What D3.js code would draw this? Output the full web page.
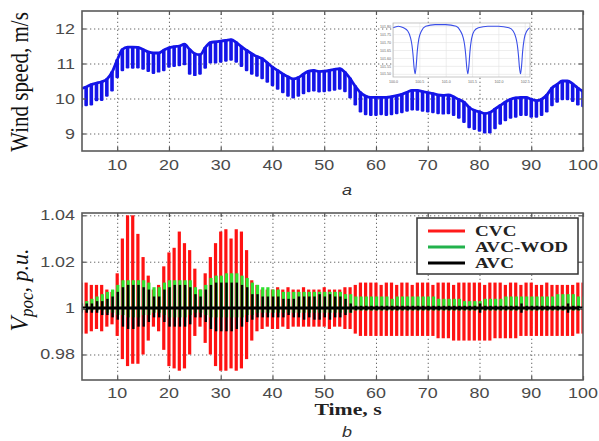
<!DOCTYPE html>
<html><head><meta charset="utf-8">
<script src="https://cdn.jsdelivr.net/npm/d3@7"></script>
<style>html,body{margin:0;padding:0;background:#fff;} svg{display:block}</style>
</head><body><svg id="c" width="599" height="441"></svg>
<script>
// ---------- DATA ----------
const time = [3,4,5,6,7,8,9,10,11,12,13,14,15,16,17,18,19,20,21,22,23,24,25,26,27,28,29,30,31,32,33,34,35,36,37,38,39,40,41,42,43,44,45,46,47,48,49,50,51,52,53,54,55,56,57,58,59,60,61,62,63,64,65,66,67,68,69,70,71,72,73,74,75,76,77,78,79,80,81,82,83,84,85,86,87,88,89,90,91,92,93,94,95,96,97,98,99,100];

// wind speed, m/s: top of each oscillation and bottom of each dip
const windTop = [10.28,10.33,10.40,10.44,10.48,10.55,10.75,
 11.10,11.40,11.47,11.47,11.46,11.40,11.33,11.30,11.30,11.38,
 11.45,11.48,11.50,11.55,11.40,11.28,11.25,11.45,11.60,11.62,
 11.64,11.66,11.68,11.60,11.48,11.38,11.28,11.20,11.14,11.02,
 10.90,10.80,10.70,10.62,10.56,10.60,10.70,10.78,10.80,10.77,
 10.78,10.80,10.83,10.85,10.75,10.57,10.35,10.17,10.07,10.03,
 10.03,10.03,10.03,10.05,10.08,10.12,10.18,10.23,10.23,10.20,
 10.17,10.14,10.10,10.09,10.10,10.05,9.97,9.90,9.75,9.66,
 9.62,9.57,9.60,9.70,9.80,9.90,9.98,10.02,10.03,10.03,
 9.98,9.94,9.98,10.10,10.30,10.40,10.50,10.50,10.42,10.30,
 10.20];
const windLow = [9.74,9.78,9.80,9.92,9.93,10.05,10.20,
 10.58,10.78,10.86,10.85,10.86,10.82,10.76,10.70,10.74,10.78,
 10.88,10.90,10.92,10.95,10.68,10.64,10.68,10.85,11.00,11.00,
 11.02,11.05,11.08,11.02,10.90,10.78,10.68,10.62,10.55,10.45,
 10.35,10.25,10.15,10.05,10.00,10.05,10.12,10.18,10.20,10.17,
 10.18,10.20,10.22,10.25,10.18,10.00,9.80,9.60,9.52,9.50,
 9.50,9.52,9.50,9.52,9.55,9.58,9.62,9.66,9.65,9.62,
 9.60,9.58,9.55,9.54,9.55,9.50,9.42,9.30,9.15,9.10,
 9.05,9.00,9.00,9.12,9.25,9.35,9.42,9.45,9.50,9.50,
 9.45,9.45,9.50,9.60,9.78,9.88,9.95,9.95,9.90,9.80,
 9.75];

// V_poc, p.u.: upper / lower extent of each oscillation
const cvcHi = [1.011,1.011,1.010,1.010,1.010,1.008,1.007,
 1.015,1.030,1.040,1.040,1.032,1.022,1.014,1.008,1.010,1.018,
 1.024,1.026,1.033,1.028,1.025,1.017,1.008,1.015,1.022,1.028,
 1.033,1.034,1.030,1.034,1.033,1.025,1.012,1.010,1.008,1.008,
 1.008,1.009,1.008,1.009,1.008,1.008,1.009,1.008,1.008,1.008,
 1.009,1.008,1.008,1.008,1.009,1.009,1.010,1.011,1.011,1.011,
 1.011,1.010,1.011,1.011,1.010,1.011,1.011,1.010,1.011,1.011,
 1.011,1.010,1.011,1.011,1.011,1.010,1.011,1.011,1.011,1.011,
 1.011,1.010,1.011,1.011,1.011,1.010,1.011,1.011,1.010,1.011,
 1.011,1.010,1.010,1.011,1.010,1.010,1.010,1.010,1.010,1.011,
 1.011];
const cvcLo = [0.989,0.989,0.990,0.991,0.990,0.992,0.993,
 0.988,0.978,0.975,0.976,0.976,0.980,0.986,0.992,0.990,0.982,
 0.975,0.974,0.973,0.974,0.980,0.988,0.992,0.985,0.980,0.975,
 0.973,0.973,0.974,0.973,0.974,0.978,0.986,0.990,0.991,0.992,
 0.991,0.991,0.992,0.991,0.992,0.992,0.992,0.992,0.992,0.992,
 0.992,0.991,0.992,0.992,0.991,0.991,0.989,0.988,0.988,0.988,
 0.988,0.988,0.988,0.988,0.988,0.988,0.988,0.988,0.988,0.988,
 0.988,0.988,0.987,0.987,0.987,0.986,0.986,0.986,0.986,0.986,
 0.986,0.986,0.986,0.987,0.987,0.987,0.987,0.987,0.988,0.988,
 0.988,0.988,0.988,0.988,0.988,0.988,0.988,0.988,0.988,0.989,
 0.989];
const wodHi = [1.002,1.003,1.004,1.005,1.006,1.007,1.008,
 1.010,1.012,1.012,1.012,1.012,1.012,1.011,1.009,1.009,1.011,
 1.012,1.012,1.012,1.012,1.012,1.009,1.008,1.010,1.013,1.014,
 1.014,1.015,1.015,1.015,1.014,1.013,1.011,1.010,1.009,1.009,
 1.008,1.008,1.007,1.007,1.007,1.007,1.007,1.007,1.007,1.007,
 1.007,1.007,1.007,1.007,1.006,1.006,1.005,1.005,1.005,1.005,
 1.005,1.005,1.005,1.004,1.005,1.005,1.005,1.005,1.005,1.005,
 1.005,1.005,1.004,1.004,1.004,1.004,1.004,1.003,1.003,1.003,
 1.003,1.004,1.004,1.004,1.004,1.005,1.005,1.005,1.005,1.005,
 1.005,1.005,1.005,1.005,1.005,1.006,1.006,1.006,1.006,1.005,
 1.005];
const wodLo = [0.999,0.999,0.999,0.999,0.999,0.998,0.998,
 0.997,0.997,0.996,0.996,0.996,0.997,0.997,0.998,0.998,0.997,
 0.996,0.996,0.996,0.996,0.997,0.998,0.998,0.997,0.996,0.996,
 0.996,0.996,0.996,0.996,0.996,0.997,0.997,0.998,0.998,0.998,
 0.998,0.998,0.998,0.998,0.998,0.998,0.998,0.998,0.998,0.998,
 0.998,0.998,0.998,0.998,0.998,0.998,0.999,0.999,0.999,0.999,
 0.999,0.999,0.999,0.999,0.999,0.999,0.999,0.999,0.999,0.999,
 0.999,0.999,0.999,0.999,0.999,0.999,0.999,0.999,0.999,0.999,
 0.999,0.999,0.999,0.999,0.999,0.999,0.999,0.999,0.999,0.999,
 0.999,0.999,0.999,0.999,0.999,0.999,0.999,0.999,0.999,0.999,
 0.999];
const avcHi = [1.002,1.002,1.002,1.003,1.003,1.004,1.005,
 1.007,1.009,1.010,1.010,1.010,1.009,1.008,1.005,1.005,1.008,
 1.009,1.010,1.010,1.010,1.009,1.006,1.005,1.008,1.010,1.011,
 1.011,1.011,1.011,1.011,1.010,1.009,1.006,1.006,1.005,1.005,
 1.005,1.005,1.004,1.004,1.004,1.005,1.005,1.005,1.005,1.006,
 1.005,1.006,1.005,1.005,1.004,1.002,1.001,1.001,1.001,1.001,
 1.001,1.001,1.001,1.001,1.001,1.001,1.001,1.001,1.001,1.001,
 1.001,1.001,1.001,1.001,1.001,1.001,1.001,1.001,1.001,1.001,
 1.002,1.001,1.001,1.001,1.001,1.001,1.001,1.001,1.002,1.001,
 1.001,1.001,1.001,1.001,1.001,1.001,1.001,1.002,1.001,1.001,
 1.001];
const avcLo = [0.998,0.998,0.998,0.998,0.997,0.997,0.996,
 0.995,0.992,0.991,0.991,0.992,0.992,0.994,0.996,0.996,0.994,
 0.992,0.992,0.992,0.992,0.993,0.996,0.996,0.994,0.991,0.990,
 0.990,0.990,0.990,0.991,0.992,0.994,0.995,0.996,0.996,0.996,
 0.996,0.996,0.996,0.997,0.996,0.996,0.995,0.996,0.995,0.995,
 0.996,0.995,0.996,0.996,0.997,0.998,0.999,0.999,0.999,0.999,
 0.999,0.999,0.999,0.999,0.999,0.999,0.999,0.999,0.999,0.999,
 0.999,0.999,0.999,0.999,0.999,0.999,0.999,0.999,0.999,0.999,
 0.998,0.999,0.999,0.999,0.999,0.999,0.999,0.999,0.998,0.999,
 0.999,0.999,0.999,0.999,0.999,0.999,0.999,0.998,0.999,0.999,
 0.999];

const xTicks = [10,20,30,40,50,60,70,80,90,100];
const windTicks = [9,10,11,12];
const vTicks = [0.98,1.00,1.02,1.04];
const vTickLabels = ["0.98","1","1.02","1.04"];
const seriesNames = ["CVC","AVC-WOD","AVC"];

// inset (zoomed wind-speed detail)
const insetT = [100.00,100.10,100.20,100.28,100.33,100.36,100.38,100.40,100.42,100.44,100.46,100.49,100.54,100.62,100.80,
 101.00,101.20,101.28,101.33,101.36,101.38,101.40,101.42,101.44,101.46,101.49,101.54,101.62,101.80,
 102.00,102.20,102.28,102.33,102.36,102.38,102.40,102.42,102.44,102.46,102.49,102.54,102.60];
const insetV = [101.79,101.80,101.79,101.77,101.73,101.68,101.62,101.54,101.50,101.55,101.64,101.72,101.77,101.80,101.81,
 101.81,101.80,101.77,101.73,101.68,101.62,101.54,101.50,101.55,101.64,101.72,101.77,101.79,101.80,
 101.80,101.79,101.77,101.73,101.68,101.62,101.54,101.50,101.55,101.64,101.72,101.77,101.79];
const insetXTicks = [100,100.5,101,101.5,102,102.5];
const insetYTicks = [101.50,101.55,101.60,101.65,101.70,101.75,101.80];

// ---------- DRAW ----------
const svg = d3.select("#c");
svg.append("rect").attr("width",599).attr("height",441).attr("fill","#fff");
const X0 = 82, X1 = 583;
const TT = 11, TB = 151, BT = 213, BB = 380;
const x = d3.scaleLinear().domain([3.2,100]).range([X0,X1]);
const yT = d3.scaleLinear().domain([8.5,12.5]).range([TB,TT]);
const yB = d3.scaleLinear().domain([0.969,1.041]).range([BB,BT]);

const defs = svg.append("defs");
defs.append("clipPath").attr("id","clipT").append("rect").attr("x",X0).attr("y",TT).attr("width",X1-X0).attr("height",TB-TT);
defs.append("clipPath").attr("id","clipB").append("rect").attr("x",X0).attr("y",BT).attr("width",X1-X0).attr("height",BB-BT);

const tickFont = "'Liberation Sans', Arial, sans-serif";
const serif = "'Liberation Serif', 'Times New Roman', serif";

function panel(yScale, yTicksV, top, bottom) {
  const h = bottom - top;
  const gx = svg.append("g").attr("transform",`translate(0,${bottom})`)
    .call(d3.axisBottom(x).tickValues(xTicks.filter(v=>v<100)).tickSize(-h).tickFormat(""));
  const gy = svg.append("g").attr("transform",`translate(${X0},0)`)
    .call(d3.axisLeft(yScale).tickValues(yTicksV).tickSize(-(X1-X0)).tickFormat(""));
  [gx,gy].forEach(g=>{
    g.select(".domain").remove();
    g.selectAll("line").attr("stroke","#666").attr("stroke-width",1).attr("stroke-dasharray","1.3,2.7");
  });
}
function frame(yScale, yTicksV, top, bottom) {
  const ax = [
    svg.append("g").attr("transform",`translate(0,${bottom})`).call(d3.axisBottom(x).tickValues(xTicks).tickSize(-4).tickFormat("")),
    svg.append("g").attr("transform",`translate(0,${top})`).call(d3.axisTop(x).tickValues(xTicks).tickSize(-4).tickFormat("")),
    svg.append("g").attr("transform",`translate(${X0},0)`).call(d3.axisLeft(yScale).tickValues(yTicksV).tickSize(-4).tickFormat("")),
    svg.append("g").attr("transform",`translate(${X1},0)`).call(d3.axisRight(yScale).tickValues(yTicksV).tickSize(-4).tickFormat(""))
  ];
  ax.forEach(g=>{ g.select(".domain").remove(); g.selectAll("line").attr("stroke","#555").attr("stroke-width",1.2); });
  svg.append("rect").attr("x",X0).attr("y",top).attr("width",X1-X0).attr("height",bottom-top)
    .attr("fill","none").attr("stroke","#5a5a5a").attr("stroke-width",1.6);
}
function label(px, py, txt, opt) {
  const g = svg.append("g").attr("transform",`translate(${px},${py})${opt.rot?" rotate(-90)":""} scale(${opt.sx||1},${opt.sy||1})`);
  const t = g.append("text").attr("text-anchor",opt.anchor||"middle")
    .attr("font-family",opt.font||tickFont).attr("font-size",opt.size||14)
    .attr("font-weight",opt.weight||"normal").attr("font-style",opt.style||"normal")
    .attr("fill",opt.fill||"#444").text(txt);
  return t;
}
function xLabels(baseY) {
  xTicks.forEach(v => label(x(v), baseY, String(v), {sx:1.28, size:14, fill:"#4a4a4a"}));
}

// ===== Top panel: wind speed =====
panel(yT, windTicks, TT, TB);
const windData = time.map((t,i)=>({t, top:windTop[i], low:windLow[i]}));
const gW = svg.append("g").attr("clip-path","url(#clipT)");
gW.append("path").datum(windData)
  .attr("d", d3.line().x(d=>x(d.t)).y(d=>yT(d.top)).curve(d3.curveMonotoneX))
  .attr("fill","none").attr("stroke","#1414e8").attr("stroke-width",2.8).attr("stroke-linejoin","round");
gW.selectAll("rect.wb").data(windData).join("rect").attr("class","wb")
  .attr("x",d=>x(d.t)-1.8).attr("width",3.6)
  .attr("y",d=>yT(d.top)-1).attr("height",d=>yT(d.low)-yT(d.top)+1)
  .attr("rx",1.2).attr("fill","#1414e8");
frame(yT, windTicks, TT, TB);
windTicks.forEach(v => label(75, yT(v)+5, String(v), {anchor:"end", sx:1.28, size:14, fill:"#4a4a4a"}));
xLabels(170);
label(28, 82, "Wind speed, m/s", {rot:true, font:serif, size:21, weight:"normal", fill:"#111", sy:1.2});
label(347, 195, "a", {font:tickFont, size:15, style:"italic", fill:"#333", sx:1.2});

// inset
const IX0 = 393, IX1 = 530, IY0 = 23, IY1 = 77;
const ix = d3.scaleLinear().domain([100,102.6]).range([IX0,IX1]);
const iy = d3.scaleLinear().domain([101.48,101.82]).range([IY1,IY0]);
svg.append("rect").attr("x",IX0).attr("y",IY0).attr("width",IX1-IX0).attr("height",IY1-IY0).attr("fill","#fff");
const igx = svg.append("g").attr("transform",`translate(0,${IY1})`)
  .call(d3.axisBottom(ix).tickValues(insetXTicks).tickSize(-(IY1-IY0)).tickFormat(d3.format(".1f")));
const igy = svg.append("g").attr("transform",`translate(${IX0},0)`)
  .call(d3.axisLeft(iy).tickValues(insetYTicks).tickSize(-(IX1-IX0)).tickFormat(d3.format(".2f")));
[igx,igy].forEach(g=>{
  g.select(".domain").remove();
  g.selectAll("line").attr("stroke","#e2e2e2").attr("stroke-width",0.6);
  g.selectAll("text").attr("font-size",3.6).attr("fill","#666").attr("font-family",tickFont);
});
igx.selectAll("text").attr("dy","0.9em");
igy.selectAll("text").attr("x",-2);
svg.append("path").datum(insetT.map((t,i)=>({t, v:insetV[i]})))
  .attr("d", d3.line().x(d=>ix(d.t)).y(d=>iy(d.v)).curve(d3.curveMonotoneX))
  .attr("fill","none").attr("stroke","#3a4ee8").attr("stroke-width",1.1);
svg.append("rect").attr("x",IX0).attr("y",IY0).attr("width",IX1-IX0).attr("height",IY1-IY0)
  .attr("fill","none").attr("stroke","#b8b8b8").attr("stroke-width",0.8);

// ===== Bottom panel: V_poc =====
panel(yB, vTicks, BT, BB);
const vData = time.map((t,i)=>({t, cH:cvcHi[i], cL:cvcLo[i], wH:wodHi[i], wL:wodLo[i], aH:avcHi[i], aL:avcLo[i]}));
const gV = svg.append("g").attr("clip-path","url(#clipB)");
const colors = {CVC:"#ff1212", WOD:"#2fe02f", AVC:"#000"};
function bars(cls, hi, lo, w, col, dx) {
  gV.selectAll("rect."+cls).data(vData).join("rect").attr("class",cls)
    .attr("x",d=>x(d.t)+dx-w/2).attr("width",w)
    .attr("y",d=>yB(d[hi])).attr("height",d=>yB(d[lo])-yB(d[hi]))
    .attr("fill",col);
}
bars("cvc","cH","cL",3.2,colors.CVC,0);
bars("wod","wH","wL",3.2,colors.WOD,0.6);
bars("avc","aH","aL",2.4,colors.AVC,0.6);
gV.append("path").datum(vData)
  .attr("d", d3.line().x(d=>x(d.t)).y(()=>yB(1)))
  .attr("stroke","#000").attr("stroke-width",3).attr("fill","none");
frame(yB, vTicks, BT, BB);
vTicks.forEach((v,i) => label(75, yB(v)+5, vTickLabels[i], {anchor:"end", sx:1.28, size:14, fill:"#4a4a4a"}));
xLabels(398);
label(348, 415, "Time, s", {font:serif, size:17, weight:"bold", fill:"#222", sx:1.28});
label(347, 437, "b", {font:tickFont, size:15, style:"italic", fill:"#333", sx:1.2});

// y label V_poc, p.u.
{
  const g = svg.append("g").attr("transform","translate(28,290) rotate(-90) scale(1,1.05)");
  const t = g.append("text").attr("text-anchor","middle").attr("font-family",serif).attr("font-style","italic").attr("fill","#111");
  t.append("tspan").attr("font-size",24).text("V");
  t.append("tspan").attr("font-size",17).attr("dy",5).text("poc");
  t.append("tspan").attr("font-size",22).attr("dy",-5).text(", p.u.");
}

// legend
{
  const LX = 417, LY = 218, LW = 161, LH = 56;
  svg.append("rect").attr("x",LX).attr("y",LY).attr("width",LW).attr("height",LH)
    .attr("fill","#fff").attr("stroke","#333").attr("stroke-width",1.5);
  const legCol = ["#ff1a1a","#22b24c","#000"];
  const ly = d3.scalePoint().domain(seriesNames).range([231,263]);
  seriesNames.forEach((n,i)=>{
    svg.append("line").attr("x1",428).attr("x2",465).attr("y1",ly(n)).attr("y2",ly(n))
      .attr("stroke",legCol[i]).attr("stroke-width",3.2);
    label(475, ly(n)+5, n, {anchor:"start", font:serif, size:14.5, weight:"bold", fill:"#222", sx:1.32});
  });
}
</script></body></html>
